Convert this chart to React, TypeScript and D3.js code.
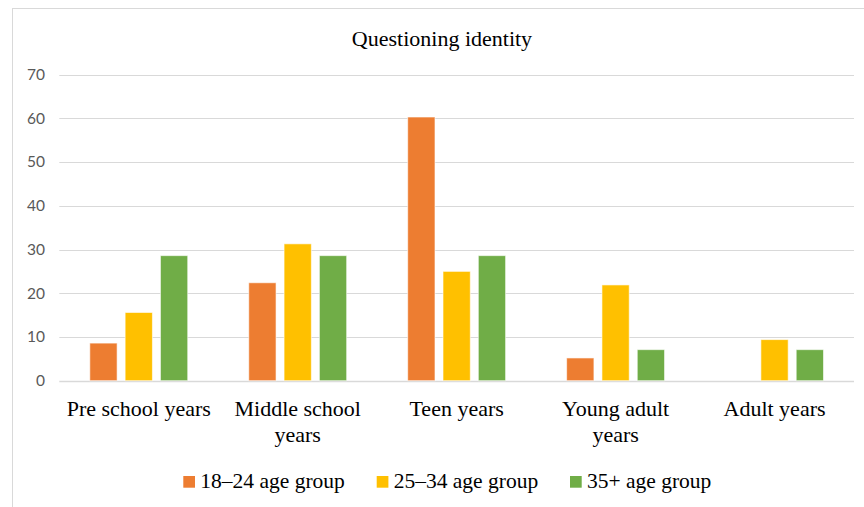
import React, { useEffect, useRef } from "react";
import * as d3 from "d3";

const categories = [
  ["Pre school years"],
  ["Middle school", "years"],
  ["Teen years"],
  ["Young adult", "years"],
  ["Adult years"],
];
const seriesNames = ["18–24 age group", "25–34 age group", "35+ age group"];
const seriesColors = ["#ED7D31", "#FFC000", "#70AD47"];
const age18to24 = [8.6, 22.4, 60.3, 5.2, 0];
const age25to34 = [15.6, 31.3, 25.0, 21.9, 9.4];
const age35plus = [28.6, 28.6, 28.6, 7.1, 7.1];
const yTicks = [0, 10, 20, 30, 40, 50, 60, 70];

const App = () => {
  const ref = useRef<SVGSVGElement>(null);

  useEffect(() => {
    const svg = d3.select(ref.current);
    svg.selectAll("*").remove();

    const width = 864;
    const height = 507;
    const left = 59.3;
    const right = 854;
    const yTop = 74.6;
    const yBottom = 380.7;
    const serif = "'Palatino Linotype', 'Book Antiqua', Palatino, 'Liberation Serif', serif";
    const sans = "Lato, Calibri, 'Liberation Sans', sans-serif";

    const values = [age18to24, age25to34, age35plus];
    const keys = categories.map(c => c.join(" "));

    const x0 = d3.scaleBand<string>().domain(keys).range([left, right]);
    const x1 = d3.scaleBand<number>()
      .domain([0, 1, 2])
      .range([0, x0.bandwidth()])
      .paddingInner(0.227)
      .paddingOuter(0.864);
    const y = d3.scaleLinear().domain([0, 70]).range([yBottom, yTop]);

    // chart border (cropped at right and bottom)
    svg.append("rect")
      .attr("x", 12.5).attr("y", 8.5)
      .attr("width", width).attr("height", height)
      .attr("fill", "white")
      .attr("stroke", "#d9d9d9");

    svg.append("text")
      .attr("x", 442).attr("y", 46)
      .attr("text-anchor", "middle")
      .attr("font-family", serif)
      .attr("font-size", 22)
      .attr("fill", "#000")
      .text("Questioning identity");

    // grid
    svg.append("g")
      .selectAll("line")
      .data(yTicks)
      .join("line")
      .attr("x1", left).attr("x2", right)
      .attr("y1", d => Math.round(y(d)) + 0.5)
      .attr("y2", d => Math.round(y(d)) + 0.5)
      .attr("stroke", "#d9d9d9")
      .attr("stroke-width", d => (d === 0 ? 1.5 : 1));

    svg.append("g")
      .selectAll("text")
      .data(yTicks)
      .join("text")
      .attr("x", 45)
      .attr("y", d => y(d))
      .attr("dy", "0.35em")
      .attr("text-anchor", "end")
      .attr("font-family", sans)
      .attr("font-size", 15.5)
      .attr("fill", "#595959")
      .text(d => d);

    // bars
    const groups = svg.append("g")
      .selectAll("g")
      .data(keys)
      .join("g")
      .attr("transform", d => `translate(${x0(d)},0)`);

    groups.selectAll("rect")
      .data((_, i) => values.map((s, j) => ({ j, v: s[i] })))
      .join("rect")
      .filter(d => d.v > 0)
      .attr("x", d => x1(d.j)!)
      .attr("width", x1.bandwidth())
      .attr("y", d => y(d.v))
      .attr("height", d => y(0) - y(d.v))
      .attr("fill", d => seriesColors[d.j])
      .attr("stroke", "white")
      .attr("stroke-opacity", 0.6)
      .attr("stroke-width", 1);

    // category labels
    const cat = svg.append("g")
      .selectAll("text")
      .data(categories)
      .join("text")
      .attr("x", (_, i) => x0(keys[i])! + x0.bandwidth() / 2)
      .attr("y", 416)
      .attr("text-anchor", "middle")
      .attr("font-family", serif)
      .attr("font-size", 22)
      .attr("fill", "#000");
    cat.selectAll("tspan")
      .data(d => d)
      .join("tspan")
      .attr("x", function () {
        return (this.parentNode as SVGTextElement).getAttribute("x");
      })
      .attr("dy", (_, i) => (i === 0 ? 0 : 26))
      .text(d => d);

    // legend
    const legendX = [183.3, 376.7, 570];
    const lg = svg.append("g")
      .selectAll("g")
      .data(seriesNames)
      .join("g")
      .attr("transform", (_, i) => `translate(${legendX[i]},476)`);
    lg.append("rect")
      .attr("width", 11.7).attr("height", 11.7)
      .attr("fill", (_, i) => seriesColors[i]);
    lg.append("text")
      .attr("x", 17).attr("y", 11.5)
      .attr("font-family", serif)
      .attr("font-size", 21.5)
      .attr("fill", "#000")
      .text(d => d);
  }, []);

  return (
    <svg
      ref={ref}
      width={864}
      height={507}
      style={{ position: "absolute", left: 0, top: 0, background: "white" }}
    />
  );
};

export default App;
